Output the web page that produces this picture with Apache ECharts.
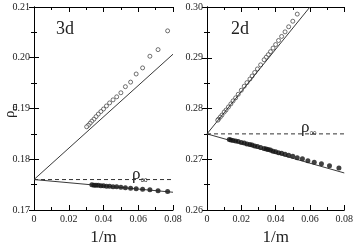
<!DOCTYPE html>
<html>
<head>
<meta charset="utf-8">
<script src="https://cdn.jsdelivr.net/npm/echarts@6/dist/echarts.min.js"></script>
<style>
  html, body { margin: 0; padding: 0; background: #fff; }
  #main { width: 356px; height: 251px; }
</style>
</head>
<body>
<div id="main"></div>
<script>
// 3d panel: 1/m and rho_m
const x3dOpen = [0.0769, 0.0714, 0.0667, 0.0625, 0.0588, 0.0556, 0.0526, 0.0500, 0.0476, 0.0455, 0.0435, 0.0417, 0.0400, 0.0385, 0.0370, 0.0357, 0.0345, 0.0333, 0.0323, 0.0313, 0.0303]
const y3dOpen = [0.2053, 0.2016, 0.2003, 0.1980, 0.1968, 0.1952, 0.1943, 0.1931, 0.1923, 0.1917, 0.1911, 0.1905, 0.1899, 0.1894, 0.1889, 0.1884, 0.1879, 0.1875, 0.1871, 0.1867, 0.1864]
const x3dFilled = [0.0769, 0.0714, 0.0667, 0.0625, 0.0588, 0.0556, 0.0526, 0.0500, 0.0476, 0.0455, 0.0435, 0.0417, 0.0400, 0.0385, 0.0370, 0.0357, 0.0345, 0.0333]
const y3dFilled = [0.17365, 0.1738, 0.1740, 0.1741, 0.1742, 0.1743, 0.1744, 0.1745, 0.1746, 0.1746, 0.1747, 0.1747, 0.1748, 0.1748, 0.1749, 0.1749, 0.1749, 0.1750]
const fit3dUp = [[0, 0.176], [0.08, 0.2007]]
const fit3dDown = [[0, 0.176], [0.08, 0.1735]]
const rhoInf3d = 0.176

// 2d panel
const x2dOpen = [0.0526, 0.0500, 0.0476, 0.0455, 0.0435, 0.0417, 0.0400, 0.0385, 0.0370, 0.0357, 0.0345, 0.0333, 0.03125, 0.0294, 0.0278, 0.0263, 0.0250, 0.0233, 0.0217, 0.0200, 0.0182, 0.0167, 0.0152, 0.0139, 0.0125, 0.0111, 0.0100, 0.0087, 0.0077, 0.0067, 0.00625]
const y2dOpen = [0.2986, 0.2972, 0.2961, 0.2951, 0.2942, 0.2934, 0.2926, 0.2919, 0.2912, 0.2906, 0.2901, 0.2896, 0.2886, 0.2878, 0.2871, 0.2864, 0.2858, 0.2851, 0.2844, 0.2836, 0.2828, 0.2821, 0.2815, 0.2809, 0.2803, 0.2797, 0.2793, 0.2787, 0.2783, 0.2779, 0.2777]
const x2dFilled = [0.0769, 0.0714, 0.0667, 0.0625, 0.0588, 0.0556, 0.0526, 0.0500, 0.0476, 0.0455, 0.0435, 0.0417, 0.0400, 0.0385, 0.0370, 0.0357, 0.0345, 0.0333, 0.03125, 0.0294, 0.0278, 0.0263, 0.0250, 0.0233, 0.0217, 0.0200, 0.0182, 0.0167, 0.0152, 0.0139, 0.0130]
const y2dFilled = [0.2683, 0.2687, 0.2691, 0.2694, 0.2697, 0.2701, 0.2703, 0.2706, 0.2708, 0.2710, 0.2712, 0.2713, 0.2715, 0.2716, 0.2718, 0.2719, 0.2720, 0.2721, 0.2723, 0.2725, 0.2726, 0.2728, 0.2729, 0.2730, 0.2732, 0.2733, 0.2735, 0.2736, 0.2737, 0.2738, 0.2739]
const fit2dUp = [[0, 0.275], [0.06, 0.30]]
const fit2dDown = [[0, 0.275], [0.08, 0.2673]]
const rhoInf2d = 0.275

const font = 'Liberation Serif'

const zip = (a, b) => a.map((v, i) => [v, b[i]])

function xAx(gi, pos, show) {
  return {
    type: 'value', gridIndex: gi, position: pos, min: 0, max: 0.08, interval: 0.02,
    axisLine: { lineStyle: { color: '#000', width: 1 } },
    axisTick: { inside: true, length: 5, lineStyle: { color: '#000' } },
    minorTick: { show: true, splitNumber: 2, length: 3, lineStyle: { color: '#000' } },
    splitLine: { show: false },
    axisLabel: {
      show: show, margin: 4, color: '#222', fontFamily: font, fontSize: 10,
      formatter: v => (v === 0 ? '0' : v.toFixed(2))
    },
    name: show ? '1/m' : '', nameLocation: 'middle', nameGap: 19,
    nameTextStyle: { fontFamily: font, fontSize: 17, color: '#222' }
  }
}
function yAx(gi, pos, show, min, max) {
  return {
    type: 'value', gridIndex: gi, position: pos, min: min, max: max, interval: 0.01,
    axisLine: { lineStyle: { color: '#000', width: 1 } },
    axisTick: { inside: true, length: 5, lineStyle: { color: '#000' } },
    minorTick: { show: true, splitNumber: 2, length: 3, lineStyle: { color: '#000' } },
    splitLine: { show: false },
    axisLabel: { show: show, margin: 4, color: '#222', fontFamily: font, fontSize: 10, formatter: v => v.toFixed(2) }
  }
}

function panel(xi, yi, open, filled, up, down, inf) {
  const lineStyle = { color: '#222', width: 0.9 }
  return [
    { type: 'line', xAxisIndex: xi, yAxisIndex: yi, data: up, showSymbol: false, lineStyle: lineStyle, silent: true },
    { type: 'line', xAxisIndex: xi, yAxisIndex: yi, data: down, showSymbol: false, lineStyle: lineStyle, silent: true },
    { type: 'line', xAxisIndex: xi, yAxisIndex: yi, data: [[0, inf], [0.08, inf]], showSymbol: false,
      lineStyle: { color: '#333', width: 1, type: [4, 3] }, silent: true },
    { type: 'scatter', xAxisIndex: xi, yAxisIndex: yi, data: open, symbol: 'circle', symbolSize: 4,
      itemStyle: { color: '#fff', borderColor: '#222', borderWidth: 0.8 } },
    { type: 'scatter', xAxisIndex: xi, yAxisIndex: yi, data: filled, symbol: 'circle', symbolSize: 5,
      itemStyle: { color: '#111' } }
  ]
}

// rho with a small subscript
function rho(sub, size, subSize, pad) {
  return {
    text: '{a|ρ}{b|' + sub + '}', rich: {
      a: { fontFamily: font, fontSize: size, fill: '#222' },
      b: { fontFamily: font, fontSize: subSize, fill: '#222', padding: [pad, 0, 0, 0] }
    }
  }
}

const chart = echarts.init(document.getElementById('main'))
chart.setOption({
  animation: false,
  grid: [
    { left: 34, top: 7, width: 139, height: 216 },
    { left: 207, top: 7, width: 138, height: 216 }
  ],
  xAxis: [xAx(0, 'bottom', true), xAx(0, 'top', false), xAx(1, 'bottom', true), xAx(1, 'top', false)],
  yAxis: [
    yAx(0, 'left', true, 0.17, 0.21), yAx(0, 'right', false, 0.17, 0.21),
    yAx(1, 'left', true, 0.26, 0.30), yAx(1, 'right', false, 0.26, 0.30)
  ],
  series: [
    ...panel(0, 0, zip(x3dOpen, y3dOpen), zip(x3dFilled, y3dFilled), fit3dUp, fit3dDown, rhoInf3d),
    ...panel(2, 2, zip(x2dOpen, y2dOpen), zip(x2dFilled, y2dFilled), fit2dUp, fit2dDown, rhoInf2d)
  ],
  graphic: [
    { type: 'text', left: 56, top: 20, style: { text: '3d', font: '18px "Liberation Serif"', fill: '#222' } },
    { type: 'text', left: 231, top: 20, style: { text: '2d', font: '18px "Liberation Serif"', fill: '#222' } },
    { type: 'text', x: 132, y: 165, style: rho('∞', 17, 10, 10) },
    { type: 'text', x: 301, y: 118, style: rho('∞', 17, 10, 10) },
    { type: 'text', x: 2, y: 118, rotation: Math.PI / 2, style: rho('m', 15, 9, 8) }
  ]
})
</script>
</body>
</html>
